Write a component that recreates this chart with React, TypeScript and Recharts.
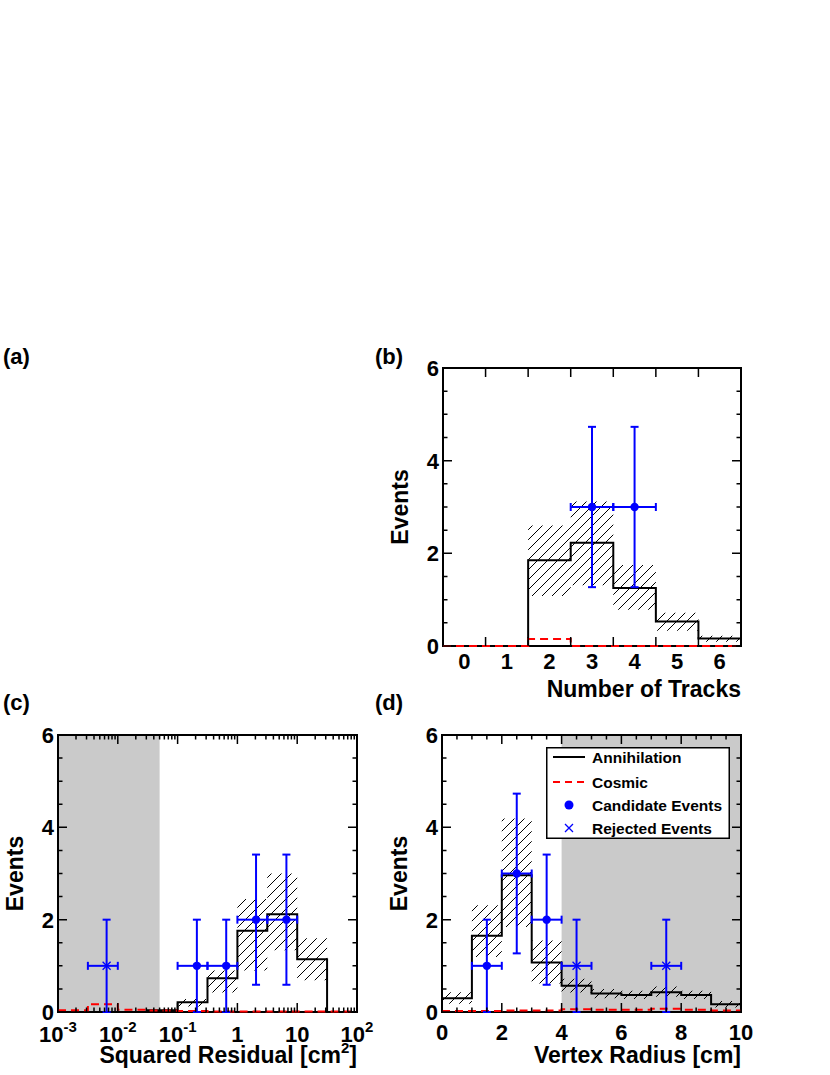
import React from "react";
import {
  ComposedChart,
  Line,
  Area,
  Scatter,
  ErrorBar,
  XAxis,
  YAxis,
  ReferenceArea,
  Legend,
} from "recharts";

const FONT = "'Liberation Sans', Arial, Helvetica, sans-serif";
const BLUE = "#0000ff";
const RED = "#ff0000";
const GREY = "#cacaca";

// (b) number of tracks
const trackEdges = [-0.5, 0.5, 1.5, 2.5, 3.5, 4.5, 5.5, 6.5];
const trackAnni = [0, 0, 1.85, 2.23, 1.25, 0.53, 0.16];
const trackBandLo = [0, 0, 1.08, 1.31, 0.78, 0.33, 0.09];
const trackBandHi = [0, 0, 2.6, 3.12, 1.75, 0.72, 0.22];
const trackCosmic = [0, 0, 0.15, 0, 0, 0, 0];
const trackCandX = [3, 4];
const trackCandY = [3, 3];
const trackCandErr = [1.73, 1.73];
const trackCandXLo = [2.5, 3.5];
const trackCandXHi = [3.5, 4.5];
const trackLabels = [0, 1, 2, 3, 4, 5, 6];
const trackTicks = [0.5, 1.5, 2.5, 3.5, 4.5, 5.5];

// (c) squared residual, half-decade bins
const resEdges = [0.001, 0.00316, 0.01, 0.0316, 0.1, 0.316, 1, 3.16, 10, 31.6, 100];
const resAnni = [0, 0, 0, 0.04, 0.21, 0.73, 1.76, 2.12, 1.14, 0];
const resBandLo = [0, 0, 0, 0, 0.12, 0.42, 0.9, 1.34, 0.69, 0];
const resBandHi = [0, 0, 0, 0, 0.28, 0.9, 2.45, 3.0, 1.6, 0];
const resCosmic = [0.04, 0.17, 0.05, 0.03, 0.02, 0.01, 0.01, 0.01, 0.01, 0.01];
const resCandX = [0.21, 0.65, 2.05, 6.6];
const resCandY = [1, 1, 2, 2];
const resCandErr = [1, 1, 1.41, 1.41];
const resCandXLo = [0.1, 0.316, 1, 3.16];
const resCandXHi = [0.316, 1, 3.16, 10];
const resRejX = [0.0065];
const resRejY = [1];
const resRejErr = [1];
const resRejXLo = [0.00316];
const resRejXHi = [0.01];
const resMajors = [0.001, 0.01, 0.1, 1, 10, 100];
const resMajorBase = ["10", "10", "10", "1", "10", "10"];
const resMajorExp = ["-3", "-2", "-1", "", "", "2"];
const resCut = [0.001, 0.05];

// (d) vertex radius
const radEdges = [0, 1, 2, 3, 4, 5, 6, 7, 8, 9, 10];
const radAnni = [0.3, 1.65, 2.96, 1.07, 0.57, 0.4, 0.37, 0.43, 0.37, 0.17];
const radBandLo = [0.18, 1.19, 1.84, 0.62, 0.42, 0.3, 0.28, 0.33, 0.28, 0.1];
const radBandHi = [0.43, 2.31, 4.19, 1.55, 0.72, 0.5, 0.46, 0.55, 0.46, 0.24];
const radCosmic = [0.02, 0.02, 0.03, 0.03, 0.06, 0.05, 0.05, 0.07, 0.05, 0.03];
const radCandX = [1.5, 2.5, 3.5];
const radCandY = [1, 3, 2];
const radCandErr = [1, 1.73, 1.41];
const radCandXLo = [1, 2, 3];
const radCandXHi = [2, 3, 4];
const radRejX = [4.5, 7.5];
const radRejY = [1, 1];
const radRejErr = [1, 1];
const radRejXLo = [4, 7];
const radRejXHi = [5, 8];
const radLabels = [0, 2, 4, 6, 8, 10];
const radCut = [4, 10];

const yTicks = [0, 0.5, 1, 1.5, 2, 2.5, 3, 3.5, 4, 4.5, 5, 5.5, 6];
const yLabels = [0, 2, 4, 6];

type Row = { x: number; h: number; band: [number, number]; cos: number };
type Pt = { x: number; y: number; ey: number; ex: [number, number] };

function histRows(edges: number[], h: number[], lo: number[], hi: number[], cos: number[]): Row[] {
  return edges.map((x, i) => {
    const k = Math.min(i, h.length - 1);
    return { x, h: h[k], band: [lo[k], hi[k]], cos: cos[k] };
  });
}

function pointRows(xs: number[], ys: number[], ey: number[], xlo: number[], xhi: number[]): Pt[] {
  return xs.map((x, i) => ({ x, y: ys[i], ey: ey[i], ex: [x - xlo[i], xhi[i] - x] }));
}

const tickText = { fontFamily: FONT, fontWeight: 700, fontSize: 22, fill: "#000" };
const titleText = { fontFamily: FONT, fontWeight: 700, fontSize: 23, fill: "#000" };

const Dot = (p: any) => <circle cx={p.cx} cy={p.cy} r={4.2} fill={BLUE} />;
const Cross = (p: any) => (
  <path
    d={`M${p.cx - 4},${p.cy - 4}L${p.cx + 4},${p.cy + 4}M${p.cx - 4},${p.cy + 4}L${p.cx + 4},${p.cy - 4}`}
    stroke={BLUE}
    strokeWidth={1.3}
  />
);

const LegendBox = () => (
  <svg width={184} height={92} style={{ display: "block" }}>
    <rect x={0.75} y={0.75} width={182.5} height={90.5} fill="#fff" stroke="#000" strokeWidth={1.5} />
    <g style={{ fontFamily: FONT, fontWeight: 700, fontSize: 15.5 }}>
      <line x1={7} x2={39} y1={10} y2={10} stroke="#000" strokeWidth={2} />
      <text x={46} y={15.5}>Annihilation</text>
      <line x1={7} x2={39} y1={35} y2={35} stroke={RED} strokeWidth={2} strokeDasharray="7 5" />
      <text x={46} y={40.5}>Cosmic</text>
      <circle cx={23} cy={58} r={4.5} fill={BLUE} />
      <text x={46} y={63.5}>Candidate Events</text>
      <path d="M19,77L27,85M19,85L27,77" stroke={BLUE} strokeWidth={1.3} />
      <text x={46} y={86.5}>Rejected Events</text>
    </g>
  </svg>
);

interface PanelProps {
  id: string;
  left: number;
  top: number;
  width: number;
  height: number;
  plot: { left: number; right: number; top: number; bottom: number };
  rows: Row[];
  cands: Pt[];
  rejects: Pt[];
  xDomain: [number, number];
  xScale: "linear" | "log";
  xTicks: number[];
  tickLen: (v: number) => number;
  xLabel: (v: number) => React.ReactNode;
  labelDy: number;
  shade?: number[];
  title: React.ReactNode;
  legend?: boolean;
}

function Panel(props: PanelProps) {
  const { id, left, top, width, height, plot } = props;

  const mark = (d: string) => <path d={d} stroke="#000" strokeWidth={1.5} fill="none" />;

  // ROOT style: ticks point inwards and repeat on the opposite side of the frame
  const bottomTick = (p: any) => {
    const v = p.payload.value;
    const len = props.tickLen(v);
    const lab = props.xLabel(v);
    const x = Number(p.x);
    return (
      <g>
        {len > 0 && mark(`M${x},${plot.bottom}V${plot.bottom - len}M${x},${plot.top}V${plot.top + len}`)}
        {lab != null && (
          <text x={x} y={plot.bottom + props.labelDy} textAnchor="middle" {...tickText}>
            {lab}
          </text>
        )}
      </g>
    );
  };
  const leftTick = (p: any) => {
    const v = p.payload.value;
    const major = yLabels.includes(v);
    const len = major ? 9 : 4.5;
    const y = Number(p.y);
    return (
      <g>
        {mark(`M${plot.left},${y}H${plot.left + len}M${plot.right},${y}H${plot.right - len}`)}
        {major && (
          <text x={plot.left - 4} y={y + 8} textAnchor="end" {...tickText}>
            {v}
          </text>
        )}
      </g>
    );
  };

  const midY = (plot.top + plot.bottom) / 2;

  return (
    <div style={{ position: "absolute", left, top, width, height }}>
      <ComposedChart
        width={width}
        height={height}
        data={props.rows}
        margin={{ top: plot.top, right: width - plot.right, bottom: 0, left: 0 }}
      >
        <defs>
          <pattern id={`hatch-${id}`} patternUnits="userSpaceOnUse" width={10} height={10}>
            <path d="M0,10L10,0M-3,3L3,-3M7,13L13,7" stroke="#000" strokeWidth={1} />
          </pattern>
        </defs>
        <XAxis
          dataKey="x"
          type="number"
          scale={props.xScale}
          domain={props.xDomain}
          ticks={props.xTicks}
          interval={0}
          tickSize={0}
          tickMargin={0}
          tickLine={false}
          tick={bottomTick}
          axisLine={false}
          height={height - plot.bottom}
          label={{
            content: () => (
              <text x={plot.right} y={plot.bottom + 51} textAnchor="end" {...titleText}>
                {props.title}
              </text>
            ),
          }}
        />
        <YAxis
          type="number"
          domain={[0, 6]}
          ticks={yTicks}
          interval={0}
          tickSize={0}
          tickMargin={0}
          tickLine={false}
          tick={leftTick}
          axisLine={false}
          width={plot.left}
          label={{
            content: () => (
              <text
                x={plot.left - 35}
                y={midY}
                transform={`rotate(-90 ${plot.left - 35} ${midY})`}
                textAnchor="middle"
                {...titleText}
              >
                Events
              </text>
            ),
          }}
        />
        {props.shade && (
          <ReferenceArea
            x1={props.shade[0]}
            x2={props.shade[1]}
            y1={0}
            y2={6}
            fill={GREY}
            fillOpacity={1}
            stroke="none"
          />
        )}
        <ReferenceArea
          x1={props.xDomain[0]}
          x2={props.xDomain[1]}
          y1={0}
          y2={6}
          fill="none"
          stroke="#000"
          strokeWidth={2}
          ifOverflow="visible"
        />
        <Area
          dataKey="band"
          type="stepAfter"
          fill={`url(#hatch-${id})`}
          fillOpacity={1}
          stroke="none"
          isAnimationActive={false}
        />
        <Line
          dataKey="h"
          type="stepAfter"
          stroke="#000"
          strokeWidth={2}
          dot={false}
          isAnimationActive={false}
        />
        <Line
          dataKey="cos"
          type="stepAfter"
          stroke={RED}
          strokeWidth={2}
          strokeDasharray="8 5"
          dot={false}
          isAnimationActive={false}
        />
        <Scatter data={props.cands} dataKey="y" shape={Dot} isAnimationActive={false}>
          <ErrorBar dataKey="ey" direction="y" width={4} stroke={BLUE} strokeWidth={2} />
          <ErrorBar dataKey="ex" direction="x" width={4} stroke={BLUE} strokeWidth={2} />
        </Scatter>
        {props.rejects.length > 0 && (
          <Scatter data={props.rejects} dataKey="y" shape={Cross} isAnimationActive={false}>
            <ErrorBar dataKey="ey" direction="y" width={4} stroke={BLUE} strokeWidth={2} />
            <ErrorBar dataKey="ex" direction="x" width={4} stroke={BLUE} strokeWidth={2} />
          </Scatter>
        )}
        {props.legend && (
          <Legend
            layout="vertical"
            align="center"
            verticalAlign="middle"
            content={() => <LegendBox />}
            wrapperStyle={{ left: 168, top: 32, width: 184, height: 92 }}
          />
        )}
      </ComposedChart>
    </div>
  );
}

const resMinors: number[] = [];
[0.001, 0.01, 0.1, 1, 10].forEach((d) => {
  for (let k = 2; k <= 9; k++) resMinors.push(k * d);
});
const resTicks = [...resMajors, ...resMinors].sort((a, b) => a - b);
const radTicks = radEdges.flatMap((e) => (e < 10 ? [e, e + 0.5] : [e]));

const panelLabel = { fontFamily: FONT, fontWeight: 700, fontSize: 22, fill: "#000" };

export default function App() {
  return (
    <div style={{ position: "absolute", left: 0, top: 0, width: 830, height: 1075, background: "#fff" }}>
      <svg width={830} height={1075} style={{ position: "absolute", left: 0, top: 0 }}>
        <text x={3} y={364} {...panelLabel}>(a)</text>
        <text x={375} y={364} {...panelLabel}>(b)</text>
        <text x={3} y={710} {...panelLabel}>(c)</text>
        <text x={375} y={710} {...panelLabel}>(d)</text>
      </svg>
      <Panel
        id="b"
        left={378}
        top={350}
        width={380}
        height={360}
        plot={{ left: 65, right: 363, top: 18, bottom: 296 }}
        rows={histRows(trackEdges, trackAnni, trackBandLo, trackBandHi, trackCosmic)}
        cands={pointRows(trackCandX, trackCandY, trackCandErr, trackCandXLo, trackCandXHi)}
        rejects={[]}
        xDomain={[-0.5, 6.5]}
        xScale="linear"
        xTicks={[...trackLabels, ...trackTicks].sort((a, b) => a - b)}
        tickLen={(v) => (trackTicks.includes(v) ? 9 : 0)}
        xLabel={(v) => (trackLabels.includes(v) ? String(v) : null)}
        labelDy={23}
        title="Number of Tracks"
      />
      <Panel
        id="c"
        left={0}
        top={715}
        width={380}
        height={360}
        plot={{ left: 58, right: 357, top: 20, bottom: 297 }}
        rows={histRows(resEdges, resAnni, resBandLo, resBandHi, resCosmic)}
        cands={pointRows(resCandX, resCandY, resCandErr, resCandXLo, resCandXHi)}
        rejects={pointRows(resRejX, resRejY, resRejErr, resRejXLo, resRejXHi)}
        xDomain={[0.001, 100]}
        xScale="log"
        xTicks={resTicks}
        tickLen={(v) => (resMajors.includes(v) ? 9 : 4.5)}
        xLabel={(v) => {
          const i = resMajors.indexOf(v);
          if (i < 0) return null;
          return (
            <>
              <tspan>{resMajorBase[i]}</tspan>
              {resMajorExp[i] && (
                <tspan dy={-10} fontSize={15}>
                  {resMajorExp[i]}
                </tspan>
              )}
            </>
          );
        }}
        labelDy={30}
        shade={resCut}
        title={
          <>
            <tspan>Squared Residual [cm</tspan>
            <tspan dy={-10} fontSize={15}>2</tspan>
            <tspan dy={10}>]</tspan>
          </>
        }
      />
      <Panel
        id="d"
        left={378}
        top={715}
        width={380}
        height={360}
        plot={{ left: 64, right: 363, top: 20, bottom: 297 }}
        rows={histRows(radEdges, radAnni, radBandLo, radBandHi, radCosmic)}
        cands={pointRows(radCandX, radCandY, radCandErr, radCandXLo, radCandXHi)}
        rejects={pointRows(radRejX, radRejY, radRejErr, radRejXLo, radRejXHi)}
        xDomain={[0, 10]}
        xScale="linear"
        xTicks={radTicks}
        tickLen={(v) => (radLabels.includes(v) ? 9 : 4.5)}
        xLabel={(v) => (radLabels.includes(v) ? String(v) : null)}
        labelDy={28}
        shade={radCut}
        title="Vertex Radius [cm]"
        legend
      />
    </div>
  );
}
